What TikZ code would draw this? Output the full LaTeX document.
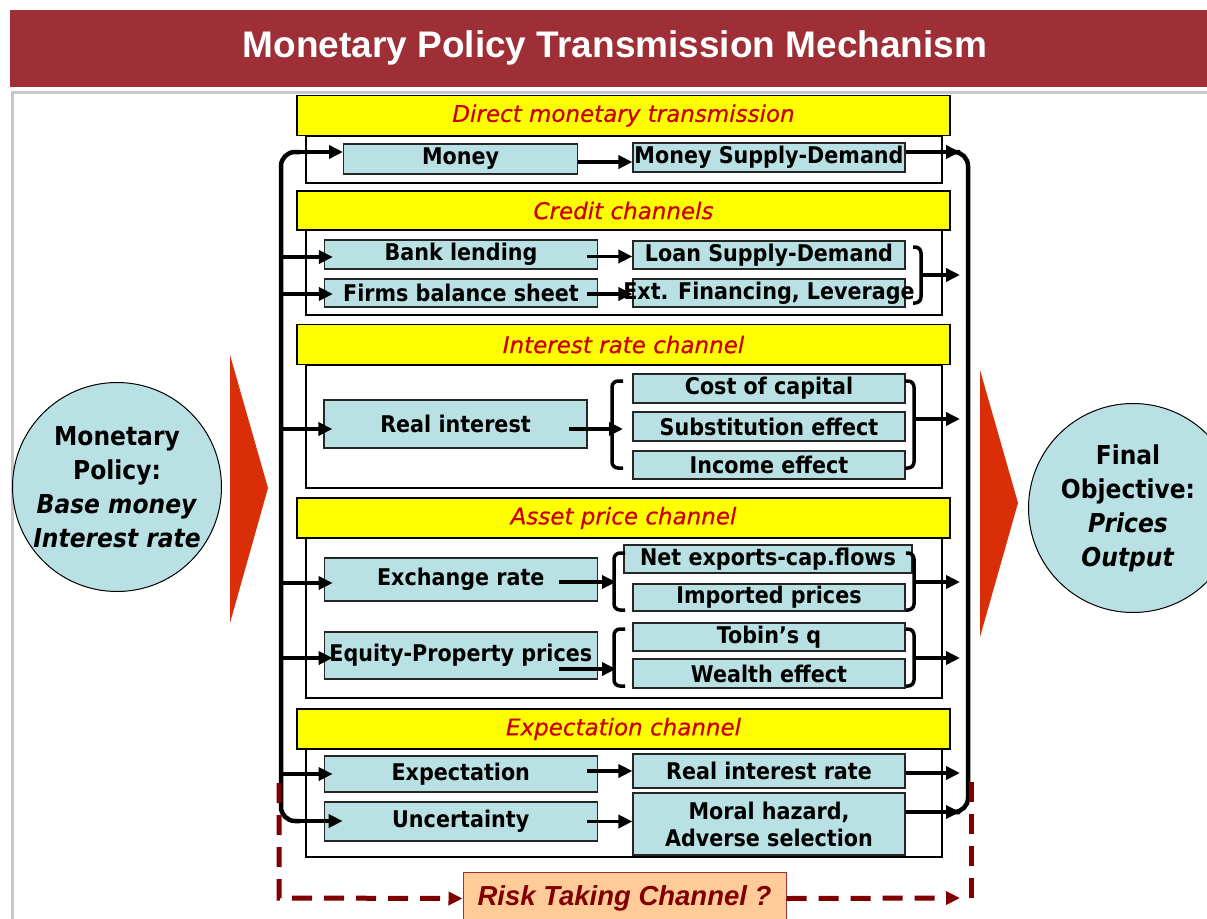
\documentclass[tikz,border=0pt]{standalone}
\usepackage{fontspec}
\setmainfont{DejaVu Sans}[FakeStretch=0.9]
\newfontfamily\barfont{DejaVu Sans}[FakeBold=0.6]
\newfontfamily\arialfont{Liberation Sans}
\usetikzlibrary{arrows.meta}

\definecolor{hdrred}{RGB}{158,47,55}
\definecolor{boxblue}{RGB}{185,224,227}
\definecolor{baryellow}{RGB}{255,255,0}
\definecolor{bartext}{RGB}{204,0,0}
\definecolor{arrowred}{RGB}{217,46,8}
\definecolor{riskred}{RGB}{128,0,0}
\definecolor{riskfill}{RGB}{255,204,153}
\definecolor{panelgray}{RGB}{200,200,200}

\begin{document}
\begin{tikzpicture}[x=1pt,y=-1pt,>={Triangle[length=14pt,width=13pt]},
  chbox/.style={draw=black!85,line width=1.2pt,fill=boxblue,inner sep=0pt,
    font=\fontsize{23}{27}\selectfont\bfseries},
  lbox/.style={chbox,minimum width=273pt},
  rbox/.style={chbox,minimum width=272pt},
  chbar/.style={draw=black,line width=1.5pt,fill=baryellow,minimum width=653pt,
    minimum height=40pt,inner sep=0pt,text=bartext,
    font=\barfont\itshape\fontsize{23}{27}\selectfont},
  frame/.style={draw=black,line width=1.5pt,fill=white},
  goal/.style={circle,draw=black,line width=1pt,fill=boxblue,minimum size=209pt,
    inner sep=0pt,align=center,font=\fontsize{26}{34}\selectfont\bfseries},
  conn/.style={line width=3.5pt},
  rail/.style={line width=4.5pt,rounded corners=14pt},
  brk/.style={line width=3.5pt,rounded corners=6pt},
  riskline/.style={draw=riskred,line width=5pt,dash pattern=on 20pt off 12pt}]

\useasboundingbox (0,0) rectangle (1207,918);
\clip (0,0) rectangle (1207,918);

% タイトル
\draw[panelgray,line width=3pt] (12,930) -- (12,92) -- (1215,92);
\fill[hdrred] (10,10) rectangle (1215,87);
\node[text=white,font=\arialfont\bfseries\fontsize{37}{40}\selectfont] (title) at (615,48)
  {Monetary Policy Transmission Mechanism};

% big arrows
\fill[arrowred] (230,355) -- (268,488) -- (230,623) -- cycle;
\fill[arrowred] (980,370) -- (1018,503) -- (980,637) -- cycle;

% start / end
\node[goal] (policy) at (117,487)
  {Monetary\\Policy:\\\textit{Base money}\\\textit{Interest rate}};
\node[goal] (final) at (1133,508)
  {\hspace*{-10pt}Final\\\hspace*{-10pt}Objective:\\\hspace*{-10pt}\textit{Prices}\\\hspace*{-10pt}\textit{Output}};

% frames
\draw[frame] (306,136) rectangle (942,183);
\draw[frame] (306,230) rectangle (942,315);
\draw[frame] (306,365) rectangle (942,488);
\draw[frame] (306,538) rectangle (942,698);
\draw[frame] (306,749) rectangle (942,857);

% channel titles
\node[chbar] (direct) at (623.5,115.5) {Direct monetary transmission};
\node[chbar,minimum height=39pt] (credit) at (623.5,210.5) {Credit channels};
\node[chbar] (interest) at (623.5,344.5) {Interest rate channel};
\node[chbar] (asset) at (623.5,518) {Asset price channel};
\node[chbar] (expect) at (623.5,729) {Expectation channel};

% direct
\node[chbox,minimum width=234pt,minimum height=30pt] (money) at (460.6,159) {Money};
\node[rbox,minimum height=29pt] (msd) at (769,157.5) {Money Supply-Demand};

% credit
\node[lbox,minimum height=29pt] (bank) at (461,254.5) {Bank lending};
\node[rbox,minimum height=28pt] (loan) at (769,255) {Loan Supply-Demand};
\node[lbox,minimum height=28pt] (firms) at (461,293) {Firms balance sheet};
\node[rbox,minimum height=28pt] (extfin) at (769,293) {\makebox[0pt]{Ext. Financing, Leverage}};

% interest rate
\node[chbox,minimum width=263pt,minimum height=48pt] (realint) at (455.5,424) {Real interest};
\node[rbox,minimum height=29pt] (cost) at (769,388.5) {Cost of capital};
\node[rbox,minimum height=29pt] (subst) at (769,426.5) {Substitution effect};
\node[rbox,minimum height=28pt] (income) at (769,465) {Income effect};

% asset price
\node[lbox,minimum height=43pt] (exch) at (460.75,579.5) {Exchange rate};
\node[chbox,minimum width=288pt,minimum height=28pt] (netexp) at (768,559) {Net exports-cap.flows};
\node[rbox,minimum height=27pt] (imported) at (769,597.5) {Imported prices};
\node[lbox,minimum height=47pt] (equity) at (460.75,655.5) {Equity-Property prices};
\node[rbox,minimum height=28pt] (tobin) at (769,637) {Tobin’s q};
\node[rbox,minimum height=29pt] (wealth) at (769,673.5) {Wealth effect};

% expectation
\node[lbox,minimum height=36pt] (expectn) at (460.75,774) {Expectation};
\node[rbox,minimum height=34pt] (rir) at (769,771) {Real interest rate};
\node[lbox,minimum height=39pt] (uncert) at (460.75,821.5) {Uncertainty};
\node[rbox,minimum height=62pt,align=center] (moral) at (769,824)
  {Moral hazard,\\Adverse selection};

% rails
\coordinate (l1) at (300,152);
\coordinate (l2) at (281,257);
\coordinate (l3) at (281,294);
\coordinate (l4) at (281,429);
\coordinate (l5) at (281,583);
\coordinate (l6) at (281,658);
\coordinate (l7) at (281,774);
\coordinate (l8) at (300,821);
\coordinate (r1) at (960,152);
\coordinate (r2) at (960,275);
\coordinate (r3) at (960,419);
\coordinate (r4) at (960,582);
\coordinate (r5) at (960,658);
\coordinate (r6) at (960,773);
\coordinate (r7) at (960,812);
\draw[rail] (l1) -- (281,152) -- (281,821) -- (l8);
\draw[rail] (r1) -- (968,152) -- (968,812) -- (r7);

\draw[conn,->] (l1) -- (l1 -| money.west);
\draw[conn,->] (l2) -- ([xshift=9pt]l2 -| bank.west);
\draw[conn,->] (l3) -- ([xshift=9pt]l3 -| firms.west);
\draw[conn,->] (l4) -- ([xshift=9pt]l4 -| realint.west);
\draw[conn,->] (l5) -- ([xshift=9pt]l5 -| exch.west);
\draw[conn,->] (l6) -- ([xshift=9pt]l6 -| equity.west);
\draw[conn,->] (l7) -- ([xshift=9pt]l7 -| expectn.west);
\draw[conn,->] (l8) -- ([xshift=19pt]l8 -| uncert.west);

% braces
\coordinate (cb) at (921,275);
\coordinate (ib) at (623,429);
\coordinate (ir) at (914,419);
\coordinate (xb) at (616,582);
\coordinate (xr) at (914,582);
\coordinate (eb) at (616,669);
\coordinate (er) at (914,658);
\draw[brk] (913,247) -- (921,247) -- (921,303) -- (913,303);
\draw[brk] (623,381) -- (612,381) -- (612,468) -- (623,468);
\draw[brk] (905,381) -- (914,381) -- (914,468) -- (905,468);
\draw[brk] (625,553) -- (614,553) -- (614,610) -- (625,610);
\draw[brk] (906,553) -- (914,553) -- (914,610) -- (906,610);
\draw[brk] (625,629) -- (614,629) -- (614,686) -- (625,686);
\draw[brk] (906,629) -- (914,629) -- (914,686) -- (906,686);

% inner arrows
\draw[conn,->] ([yshift=-3pt]money.east) -- ([yshift=-3pt]money.east -| msd.west);
\draw[conn,->] (r1 -| msd.east) -- (r1);
\draw[conn,->] ([xshift=-11pt,yshift=-2pt]bank.east) -- ([yshift=-2pt]bank.east -| loan.west);
\draw[conn,->] ([xshift=-11pt,yshift=-1pt]firms.east) -- ([yshift=-1pt]firms.east -| extfin.west);
\draw[conn,->] (cb) -- (r2);
\draw[conn,->] ([xshift=-19pt]realint.east |- ib) -- (ib);
\draw[conn,->] (ir) -- (r3);
\draw[conn,->] ([xshift=-39pt]exch.east |- xb) -- (xb);
\draw[conn,->] (xr) -- (r4);
\draw[conn,->] ([xshift=-39pt]equity.east |- eb) -- (eb);
\draw[conn,->] (er) -- (r5);
\draw[conn,->] ([xshift=-11pt]expectn.east |- rir.east) -- (rir.west);
\draw[conn,->] (r6 -| rir.east) -- (r6);
\draw[conn,->] ([xshift=-11pt]uncert.east) -- (uncert.east -| moral.west);
\draw[conn,->] (r7 -| moral.east) -- (r7);

% risk taking
\node[draw=riskred!80,line width=1pt,fill=riskfill,minimum width=323pt,minimum height=53pt,
  inner sep=0pt,text=riskred,font=\arialfont\bfseries\itshape\fontsize{27.5}{30}\selectfont]
  (risk) at (624.5,898.5) {Risk Taking Channel ?};
\coordinate (rk) at (960,898);
\draw[riskline,->] (279,783) -- (279,898) -- (risk.west);
\draw[riskline,->] (risk.east) -- (rk);
\draw[riskline] (971,898) -- (971,782);

\end{tikzpicture}
\end{document}
